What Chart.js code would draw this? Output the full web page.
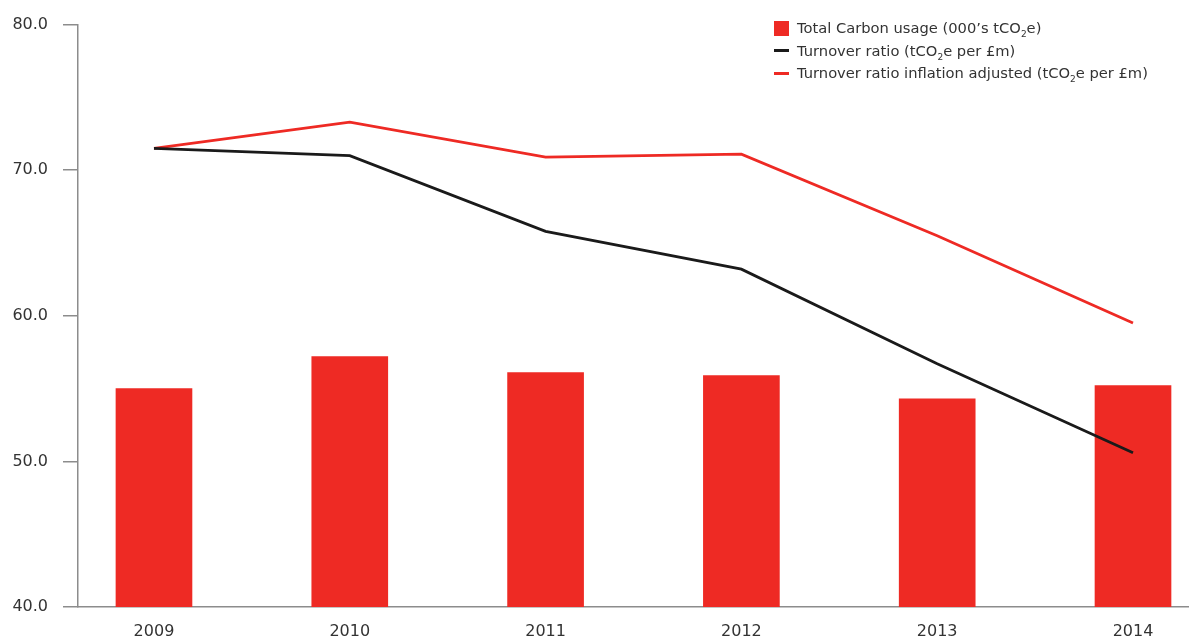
<!DOCTYPE html>
<html>
<head>
<meta charset="utf-8">
<script src="https://cdn.jsdelivr.net/npm/chart.js@4.4.1/dist/chart.umd.min.js"></script>
<style>
  html, body { margin: 0; padding: 0; background: #fff; }
  #wrap { position: relative; width: 1189px; height: 636px; }
  #legend {
    position: absolute; left: 774px; top: 17px;
    font-family: "DejaVu Sans", sans-serif; font-size: 14.7px; color: #333;
    line-height: 22.5px;
  }
  #legend .row { display: flex; align-items: center; white-space: nowrap; }
  #legend .key { width: 15px; margin-right: 8px; flex: none; }
  #legend .box { height: 15px; background: #ee2a24; }
  #legend .dash { height: 3px; }
  #legend sub { font-size: 9px; position: relative; top: 4px; vertical-align: baseline; line-height: 0; }
</style>
</head>
<body>
<div id="wrap">
  <canvas id="chartContainer" width="1189" height="636"></canvas>
  <div id="legend">
    <div class="row"><span class="key box"></span><span>Total Carbon usage (000’s tCO<sub>2</sub>e)</span></div>
    <div class="row"><span class="key dash" style="background:#1a1a1a"></span><span>Turnover ratio (tCO<sub>2</sub>e per £m)</span></div>
    <div class="row"><span class="key dash" style="background:#ee2a24"></span><span>Turnover ratio inflation adjusted (tCO<sub>2</sub>e per £m)</span></div>
  </div>
</div>
<script>
const years = [2009, 2010, 2011, 2012, 2013, 2014];
const carbonUsage = [55.0, 57.2, 56.1, 55.9, 54.3, 55.2];
const turnoverRatio = [71.5, 71.0, 65.8, 63.2, 56.7, 50.6];
const turnoverAdjusted = [71.5, 73.3, 70.9, 71.1, 65.5, 59.5];
const yTicks = [40, 50, 60, 70, 80];

const red = "#ee2a24";
const black = "#1a1a1a";
const axisGrey = "#8c8c8c";
const textGrey = "#333";

function points(values) {
  return years.map((year, i) => ({ x: year, y: values[i] }));
}

const lineStyle = {
  type: "line",
  borderWidth: 2.8,
  pointRadius: 0,
  tension: 0,
  fill: false
};

const chart = new Chart(document.getElementById("chartContainer"), {
  data: {
    datasets: [
      { ...lineStyle, label: "Turnover ratio inflation adjusted", data: points(turnoverAdjusted), borderColor: red, order: 1 },
      { ...lineStyle, label: "Turnover ratio", data: points(turnoverRatio), borderColor: black, order: 0 },
      { type: "bar", label: "Total Carbon usage", data: points(carbonUsage), backgroundColor: red, barThickness: 76, order: 2 }
    ]
  },
  options: {
    responsive: false,
    animation: false,
    layout: { padding: { top: 24, right: 0, left: 0, bottom: 0 } },
    plugins: { legend: { display: false }, tooltip: { enabled: false } },
    scales: {
      x: {
        type: "linear",
        offset: false,
        min: 2008.612,
        max: 2014.286,
        afterBuildTicks: s => { s.ticks = years.map(v => ({ value: v })); },
        afterFit: s => { s.height = 29; },
        grid: { display: false, drawTicks: false },
        border: { display: true, color: axisGrey, width: 1.5 },
        ticks: {
          color: textGrey,
          padding: 15,
          font: { family: "DejaVu Sans", size: 16 },
          callback: v => String(v)
        }
      },
      y: {
        min: 40,
        max: 80,
        afterBuildTicks: s => { s.ticks = yTicks.map(v => ({ value: v })); },
        afterFit: s => { s.width = 78; },
        grid: { drawOnChartArea: false, drawTicks: true, tickLength: 15, color: axisGrey, lineWidth: 1.5 },
        border: { display: true, color: axisGrey, width: 1.5 },
        ticks: {
          color: textGrey,
          padding: 15,
          font: { family: "DejaVu Sans", size: 16 },
          callback: v => v.toFixed(1)
        }
      }
    }
  }
});
</script>
</body>
</html>
